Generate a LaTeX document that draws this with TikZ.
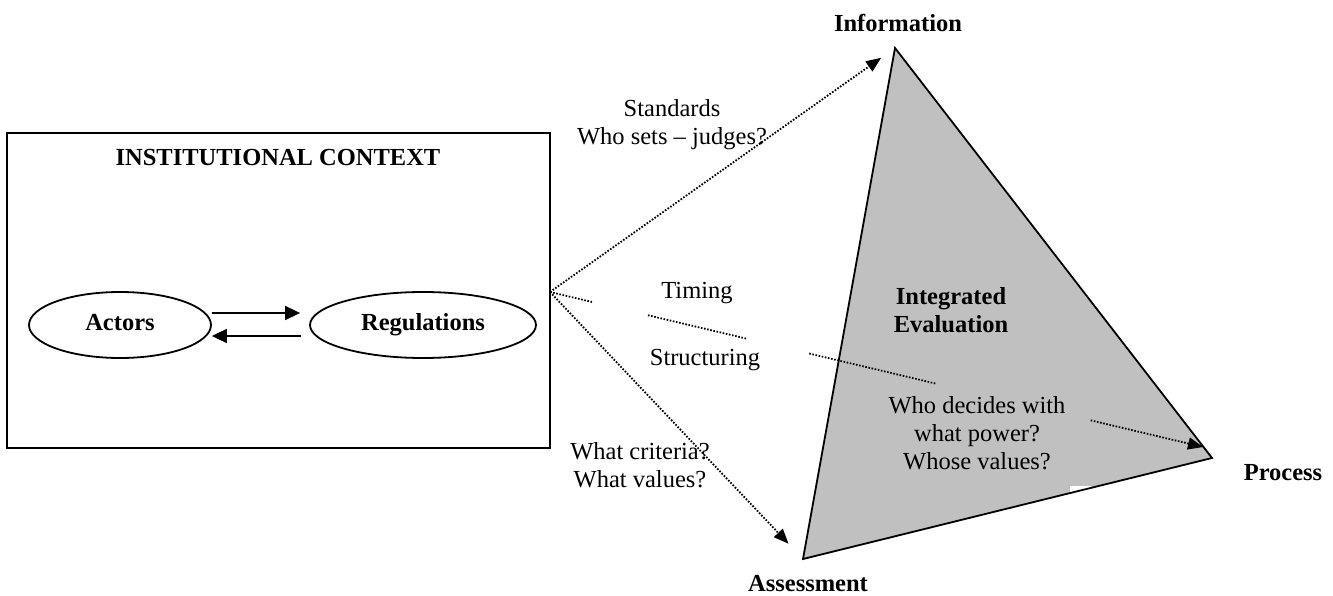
\documentclass[tikz,border=0pt]{standalone}
\usepackage{fontspec}
\setmainfont{Liberation Serif}
\usetikzlibrary{arrows.meta,shapes.geometric,calc}
\begin{document}
\begin{tikzpicture}[x=1pt,y=-1pt,
  lbl/.style={font=\fontsize{24.5}{28}\selectfont, align=center, inner sep=0pt},
  blbl/.style={lbl, font=\fontsize{24.5}{28}\selectfont\bfseries},
  oval/.style={draw, ellipse, line width=1.8pt, inner sep=0pt, minimum height=66pt,
    font=\fontsize{24.5}{28}\selectfont\bfseries, text height=16pt, text depth=5pt},
  solidarrow/.style={line width=1.8pt, -{Triangle[length=15pt,width=14pt]}},
  dotline/.style={line width=1.8pt, dash pattern=on 1.6pt off 1.6pt},
  dotarrow/.style={dotline, -{Triangle[length=15pt,width=12pt]}},
  trifill/.style={fill={rgb,255:red,192;green,192;blue,192}},
]
% canvas
\fill[white] (0,0) rectangle (1333,596);
\useasboundingbox (0,0) rectangle (1333,596);

% institutional context box
\node[draw, line width=1.8pt, minimum width=543pt, minimum height=315pt, inner sep=0pt] (ctx) at (278.5,290.5) {};
\node[blbl] (ctxtitle) at (278,158) {INSTITUTIONAL CONTEXT};
\node[oval, minimum width=182pt] (act) at (120,325) {Actors};
\node[oval, minimum width=226pt] (reg) at (423,325) {Regulations};
\draw[solidarrow] ([yshift=12pt]act.east) -- ([yshift=12pt,xshift=-9pt]reg.west);
\draw[solidarrow] ([yshift=-11pt,xshift=-8pt]reg.west) -- ([yshift=-11pt]act.east);

% evaluation triangle
\coordinate (info) at (895,48);
\coordinate (proc) at (1212,458);
\coordinate (asmt) at (803,559);
\fill[trifill] (info) -- (proc) -- (asmt) -- cycle;
\fill[white] (1070,486) rectangle (1091,500);
\draw[line width=1.8pt, line join=miter] (info) -- (proc) -- (asmt) -- cycle;

% fan of dotted connectors
\coordinate (fan) at (550,292);
\coordinate (ptip) at (1203,447);
\draw[dotarrow, shorten >=17pt] (fan) -- (info);
\draw[dotarrow, shorten >=21pt] (fan) -- (asmt);
\draw[dotline] (fan) -- ($(fan)!0.066!(ptip)$);
\draw[dotline] ($(fan)!0.150!(ptip)$) -- ($(fan)!0.302!(ptip)$);
\draw[dotline] ($(fan)!0.397!(ptip)$) -- ($(fan)!0.590!(ptip)$);
\draw[dotarrow] ($(fan)!0.828!(ptip)$) -- (ptip);

% labels
\node[blbl] (infolbl) at (898,23) {Information};
\node[blbl] (proclbl) at (1283,473) {Process};
\node[blbl] (asmtlbl) at (808,584) {Assessment};
\node[lbl] (std) at (672,125) {Standards\\Who sets -- judges?};
\node[lbl] (timing) at (697,293) {Timing};
\node[lbl] (struct) at (705,360) {Structuring};
\node[lbl] (crit) at (640,465) {What criteria?\\What values?};
\node[blbl] (integ) at (951,310) {Integrated\\Evaluation};
\node[lbl] (who) at (977,433) {Who decides with\\what power?\\Whose values?};
\end{tikzpicture}
\end{document}
